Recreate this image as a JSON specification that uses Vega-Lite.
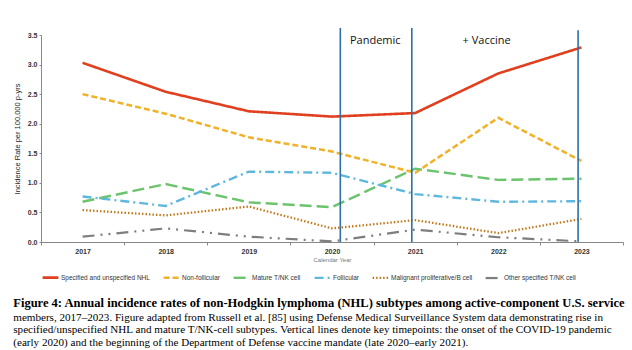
{
  "$schema": "https://vega.github.io/schema/vega-lite/v6.json",
  "width": 582,
  "height": 207,
  "autosize": {"type": "none"},
  "padding": {"left": 41, "top": 35, "right": 9, "bottom": 108},
  "background": "white",
  "config": {
    "view": {"stroke": null},
    "font": "Liberation Sans"
  },
  "title": {
    "text": "Figure 4: Annual incidence rates of non-Hodgkin lymphoma (NHL) subtypes among active-component U.S. service",
    "subtitle": [
      "members, 2017–2023. Figure adapted from Russell et al. [85] using Defense Medical Surveillance System data demonstrating rise in",
      "specified/unspecified NHL and mature T/NK-cell subtypes. Vertical lines denote key timepoints: the onset of the COVID-19 pandemic",
      "(early 2020) and the beginning of the Department of Defense vaccine mandate (late 2020–early 2021)."
    ],
    "orient": "bottom",
    "anchor": "start",
    "frame": "bounds",
    "font": "Liberation Serif",
    "fontSize": 12.5,
    "fontWeight": "bold",
    "color": "#000000",
    "subtitleFont": "Liberation Serif",
    "subtitleFontSize": 11.1,
    "subtitleColor": "#000000",
    "subtitlePadding": 2,
    "subtitleLineHeight": 12.5,
    "offset": 14
  },
  "datasets": {
    "rates": [
      {"year": "2017", "series": "Specified and unspecified NHL", "value": 3.03},
      {"year": "2018", "series": "Specified and unspecified NHL", "value": 2.54},
      {"year": "2019", "series": "Specified and unspecified NHL", "value": 2.21},
      {"year": "2020", "series": "Specified and unspecified NHL", "value": 2.12},
      {"year": "2021", "series": "Specified and unspecified NHL", "value": 2.18},
      {"year": "2022", "series": "Specified and unspecified NHL", "value": 2.85},
      {"year": "2023", "series": "Specified and unspecified NHL", "value": 3.29},
      {"year": "2017", "series": "Non-follicular", "value": 2.5},
      {"year": "2018", "series": "Non-follicular", "value": 2.17},
      {"year": "2019", "series": "Non-follicular", "value": 1.77},
      {"year": "2020", "series": "Non-follicular", "value": 1.53},
      {"year": "2021", "series": "Non-follicular", "value": 1.17},
      {"year": "2022", "series": "Non-follicular", "value": 2.1},
      {"year": "2023", "series": "Non-follicular", "value": 1.37},
      {"year": "2017", "series": "Mature T/NK cell", "value": 0.68},
      {"year": "2018", "series": "Mature T/NK cell", "value": 0.98},
      {"year": "2019", "series": "Mature T/NK cell", "value": 0.67},
      {"year": "2020", "series": "Mature T/NK cell", "value": 0.59},
      {"year": "2021", "series": "Mature T/NK cell", "value": 1.24},
      {"year": "2022", "series": "Mature T/NK cell", "value": 1.05},
      {"year": "2023", "series": "Mature T/NK cell", "value": 1.07},
      {"year": "2017", "series": "Follicular", "value": 0.77},
      {"year": "2018", "series": "Follicular", "value": 0.61},
      {"year": "2019", "series": "Follicular", "value": 1.19},
      {"year": "2020", "series": "Follicular", "value": 1.17},
      {"year": "2021", "series": "Follicular", "value": 0.81},
      {"year": "2022", "series": "Follicular", "value": 0.68},
      {"year": "2023", "series": "Follicular", "value": 0.69},
      {"year": "2017", "series": "Malignant proliferative/B cell", "value": 0.54},
      {"year": "2018", "series": "Malignant proliferative/B cell", "value": 0.45},
      {"year": "2019", "series": "Malignant proliferative/B cell", "value": 0.6},
      {"year": "2020", "series": "Malignant proliferative/B cell", "value": 0.23},
      {"year": "2021", "series": "Malignant proliferative/B cell", "value": 0.37},
      {"year": "2022", "series": "Malignant proliferative/B cell", "value": 0.15},
      {"year": "2023", "series": "Malignant proliferative/B cell", "value": 0.39},
      {"year": "2017", "series": "Other specified T/NK cell", "value": 0.09},
      {"year": "2018", "series": "Other specified T/NK cell", "value": 0.23},
      {"year": "2019", "series": "Other specified T/NK cell", "value": 0.09},
      {"year": "2020", "series": "Other specified T/NK cell", "value": 0.01},
      {"year": "2021", "series": "Other specified T/NK cell", "value": 0.21},
      {"year": "2022", "series": "Other specified T/NK cell", "value": 0.08},
      {"year": "2023", "series": "Other specified T/NK cell", "value": 0.01}
    ]
  },
  "encoding": {
    "x": {
      "field": "year",
      "type": "ordinal",
      "scale": {"domain": ["2017","2018","2019","2020","2021","2022","2023"], "paddingInner": 0, "paddingOuter": 0},
      "axis": {
        "title": "Calendar Year",
        "titleFontSize": 6,
        "titleFontWeight": "normal",
        "titleColor": "#777777",
        "titlePadding": 2,
        "labelAngle": 0,
        "labelFontSize": 7,
        "labelFontWeight": "bold",
        "labelColor": "#333333",
        "labelPadding": 2,
        "tickBand": "extent",
        "tickSize": 3,
        "domainColor": "#888888",
        "tickColor": "#888888"
      }
    },
    "y": {
      "field": "value",
      "type": "quantitative",
      "scale": {"domain": [0, 3.5], "nice": false},
      "axis": {
        "title": "Incidence Rate per 100,000 p-yrs",
        "titleFontSize": 7.5,
        "titleFontWeight": "normal",
        "titleColor": "#222222",
        "titlePadding": 6,
        "values": [0, 0.5, 1, 1.5, 2, 2.5, 3, 3.5],
        "format": ".1f",
        "labelOverlap": false,
        "labelFontSize": 7,
        "labelFontWeight": "bold",
        "labelColor": "#333333",
        "labelPadding": 2,
        "grid": false,
        "tickSize": 2,
        "domainColor": "#888888",
        "tickColor": "#888888"
      }
    }
  },
  "layer": [
    {
      "data": {"name": "rates"},
      "mark": {"type": "line", "strokeCap": "butt"},
      "encoding": {
        "color": {
          "field": "series",
          "type": "nominal",
          "scale": {
            "domain": ["Specified and unspecified NHL","Non-follicular","Mature T/NK cell","Follicular","Malignant proliferative/B cell","Other specified T/NK cell"],
            "range": ["#E0401F","#F0B22A","#6CC36E","#5FB7DE","#C2791B","#7E7E7E"]
          },
          "legend": {
            "title": null,
            "orient": "bottom",
            "direction": "horizontal",
            "symbolType": "stroke",
            "symbolSize": 250,
            "symbolStrokeWidth": 2,
            "labelFontSize": 6.5,
            "labelColor": "#333333",
            "columnPadding": 8,
            "labelOffset": 1,
            "offset": 6
          }
        },
        "strokeDash": {
          "field": "series",
          "type": "nominal",
          "scale": {
            "domain": ["Specified and unspecified NHL","Non-follicular","Mature T/NK cell","Follicular","Malignant proliferative/B cell","Other specified T/NK cell"],
            "range": [[1,0],[6,3],[12,5],[9,4,2,4],[1.5,2],[12,6,2,6,2,6]]
          },
          "legend": {
            "title": null,
            "orient": "bottom",
            "direction": "horizontal",
            "symbolType": "stroke",
            "symbolSize": 250,
            "symbolStrokeWidth": 2,
            "labelFontSize": 6.5,
            "labelColor": "#333333",
            "columnPadding": 8,
            "labelOffset": 1,
            "offset": 6
          }
        },
        "strokeWidth": {
          "field": "series",
          "type": "nominal",
          "scale": {
            "domain": ["Specified and unspecified NHL","Non-follicular","Mature T/NK cell","Follicular","Malignant proliferative/B cell","Other specified T/NK cell"],
            "range": [2.6, 2.2, 2.2, 2.2, 2.2, 2.2]
          },
          "legend": null
        }
      }
    },
    {
      "data": {"values": [{"year": "2020", "value": 0, "top": 3.62}]},
      "mark": {"type": "rule", "color": "#2E6FA8", "strokeWidth": 1.6},
      "encoding": {
        "x": {"field": "year", "type": "ordinal", "bandPosition": 0.6},
        "y2": {"field": "top"}
      }
    },
    {
      "data": {"values": [{"year": "2021", "value": 0, "top": 3.62}, {"year": "2023", "value": 0, "top": 3.58}]},
      "mark": {"type": "rule", "color": "#2E6FA8", "strokeWidth": 1.6},
      "encoding": {
        "x": {"field": "year", "type": "ordinal", "bandPosition": 0.46},
        "y2": {"field": "top"}
      }
    },
    {
      "data": {"values": [{"year": "2021", "value": 3.4, "label": "Pandemic"}]},
      "mark": {"type": "text", "font": "Open Sans", "fontSize": 11, "color": "#111111", "baseline": "middle", "align": "center"},
      "encoding": {
        "x": {"field": "year", "type": "ordinal", "bandPosition": 0.02},
        "text": {"field": "label"}
      }
    },
    {
      "data": {"values": [{"year": "2022", "value": 3.4, "label": "+ Vaccine"}]},
      "mark": {"type": "text", "font": "Open Sans", "fontSize": 11, "color": "#111111", "baseline": "middle", "align": "center"},
      "encoding": {
        "x": {"field": "year", "type": "ordinal", "bandPosition": 0.36},
        "text": {"field": "label"}
      }
    }
  ]
}
